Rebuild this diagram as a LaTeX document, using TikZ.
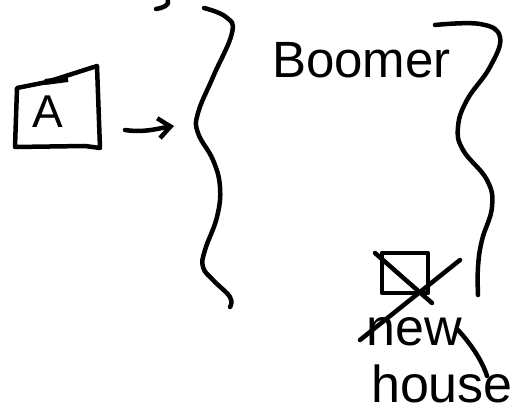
\documentclass[tikz,border=0pt]{standalone}
\usepackage{fontspec}
\setmainfont{Liberation Sans}
\usetikzlibrary{arrows.meta}
\begin{document}
\begin{tikzpicture}[x=1pt,y=-1pt,
  ink/.style={line width=4.5pt,line cap=round,line join=round},
  hand/.style={inner sep=0pt,font=\fontsize{#1}{#1}\selectfont},
  hand/.default=50]
\useasboundingbox[fill=white] (0,0) rectangle (515,412);
% top scribble
\draw[ink] (156,9) .. controls (163,8) and (170,5) .. (168,0);
% left wavy brace
\draw[ink] plot[smooth,tension=0.7] coordinates {(204,8) (226,17) (232,33) (213,77) (198,113) (198,133) (213,160) (220,187) (217,217) (205,250) (203,267) (213,280) (230,297) (230,307)};
\coordinate (lbrace) at (174,126);
% box A
\node[hand=46] (A) at (48,112) {A};
\draw[ink] (17,88) -- (47,82) -- (97,66) -- (100,148) -- (85,146) -- (15,147) -- cycle;
\draw[line width=6pt] (45,82) -- (68,79);
% arrow
\coordinate (astart) at (125,130);
\draw[ink,-{Straight Barb[length=12pt,width=20pt,line width=4.5pt]}] (astart) .. controls (145,133) and (160,128) .. (lbrace);
% Boomer
\node[hand=51,anchor=south west] (boomer) at (272,78) {Boomer};
% right wavy brace
\draw[ink] plot[smooth,tension=0.7] coordinates {(435,25) (480,24) (500,37) (490,67) (467,100) (458,127) (463,150) (487,180) (492,207) (482,240) (478,267) (478,295)};
% small crossed square
\node[draw,ink,minimum width=46pt,minimum height=40pt,inner sep=0pt] (sq) at (405,273) {};
\draw[ink] (375,253) -- (432,303);
\coordinate (slashtop) at (460,260);
\coordinate (slashend) at (360,340);
\draw[ink] (slashtop) -- (slashend);
% new
\node[hand=52,anchor=base] (new) at (414,345) {new};
% house
\node[hand=52,anchor=base] (house) at (442,402) {house};
\coordinate (wtail) at (458,330);
\coordinate (hend) at (487,376);
\draw[ink] (wtail) .. controls (470,343) and (482,360) .. (hend);
\end{tikzpicture}
\end{document}
